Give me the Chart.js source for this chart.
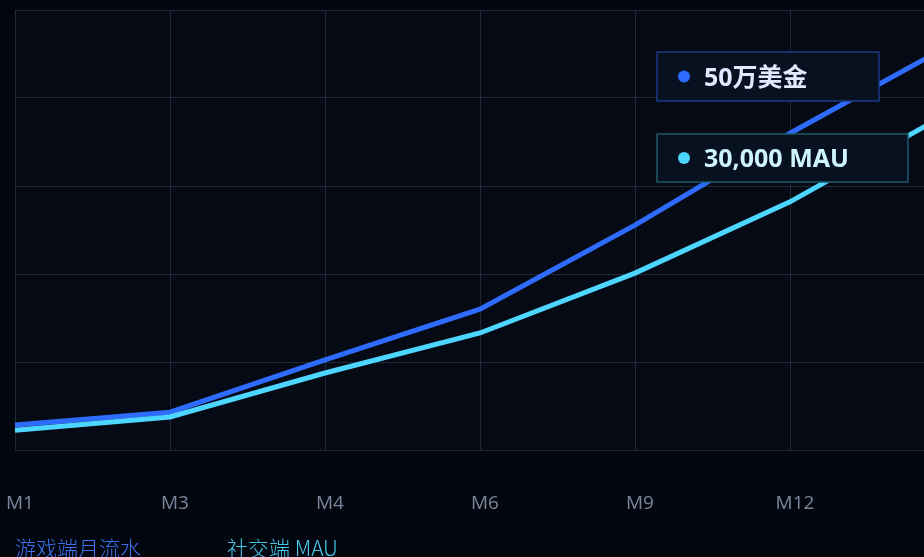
<!DOCTYPE html>
<html><head><meta charset="utf-8">
<script src="https://cdn.jsdelivr.net/npm/chart.js@4.4.1/dist/chart.umd.min.js"></script>
<style>
html,body{margin:0;padding:0;background:#02060f;overflow:hidden}
#wrap{position:relative;width:960px;height:580px}
</style></head><body>
<div id="wrap"><canvas id="c"></canvas></div>
<script>
const months=['M1','M3','M4','M6','M9','M12','M18'];
const gameRevenue=[5.7,8.6,20.5,32,51.1,72,91.4];
const socialMau=[4.5,7.5,17.5,26.6,40.2,56.4,76.1];
const seriesNames=['游戏端月流水','社交端 MAU'];
const calloutTexts=['50万美金','30,000 MAU'];

const BLUE='#2e6bff', CYAN='#4dd6ff', GRID='rgba(40,50,70,0.75)';

const areaBg={id:'areaBg',beforeDraw(ch){const {ctx,chartArea:a}=ch;ctx.save();ctx.fillStyle='#050a15';ctx.fillRect(a.left,a.top,a.right-a.left,a.bottom-a.top);ctx.restore();}};

// two callout boxes over the top right of the plot
const callouts={id:'callouts',afterDatasetsDraw(ch){
  const {ctx,chartArea:a}=ch;
  const boxes=[
    {t:calloutTexts[0],dot:BLUE,txt:'#e2e8ff',line:'#1d3a86',x:642,y:42,w:222,h:49},
    {t:calloutTexts[1],dot:CYAN,txt:'#cdf4ff',line:'#1f5868',x:642,y:124,w:251,h:48}
  ];
  ctx.save();
  boxes.forEach(b=>{
    const x=a.left+b.x,y=a.top+b.y;
    ctx.fillStyle='#08111f';ctx.fillRect(x,y,b.w,b.h);
    ctx.strokeStyle=b.line;ctx.lineWidth=1.5;ctx.strokeRect(x,y,b.w,b.h);
    ctx.fillStyle=b.dot;ctx.beginPath();ctx.arc(x+27,y+b.h/2,6,0,Math.PI*2);ctx.fill();
    ctx.fillStyle=b.txt;ctx.font='bold 25px "Noto Sans","Noto Sans CJK SC",sans-serif';
    ctx.textBaseline='middle';ctx.fillText(b.t,x+47,y+b.h/2+2);
  });
  ctx.restore();
}};

// plain coloured text legend along the bottom
const textLegend={id:'textLegend',afterDraw(ch){
  const {ctx}=ch;const cols=['#3b72f0','#45c8ea'];
  ctx.save();ctx.font='300 21px "Noto Sans CJK SC",sans-serif';ctx.textBaseline='middle';
  let x=15;
  ch.data.datasets.forEach((d,i)=>{ctx.fillStyle=cols[i];ctx.fillText(d.label,x,548);x+=ctx.measureText(d.label).width+86;});
  ctx.restore();
}};

new Chart(document.getElementById('c'),{
  type:'line',
  data:{labels:months,datasets:[
    {label:seriesNames[0],data:gameRevenue,borderColor:BLUE,borderWidth:5,pointRadius:0,tension:0,order:2},
    {label:seriesNames[1],data:socialMau,borderColor:CYAN,borderWidth:5,pointRadius:0,tension:0,order:1}
  ]},
  options:{
    responsive:true,maintainAspectRatio:false,animation:false,devicePixelRatio:1,
    layout:{autoPadding:false,padding:{left:15,top:10,right:15,bottom:66}},
    plugins:{legend:{display:false},tooltip:{enabled:false}},
    scales:{
      x:{grid:{color:GRID,lineWidth:1,drawTicks:false},border:{display:false},
         ticks:{color:'#7b869b',font:{family:'"Open Sans",sans-serif',size:19},padding:42,labelOffset:5,maxRotation:0,autoSkip:false},
         afterFit:s=>{s.height=64;s.paddingLeft=0;s.paddingRight=0;}},
      y:{min:0,max:100,grid:{color:GRID,lineWidth:1,drawTicks:false},border:{display:false},
         ticks:{display:false,stepSize:20},afterFit:s=>{s.width=0;s.paddingTop=0;s.paddingBottom=0;}}
    }
  },
  plugins:[areaBg,callouts,textLegend]
});
</script></body></html>
